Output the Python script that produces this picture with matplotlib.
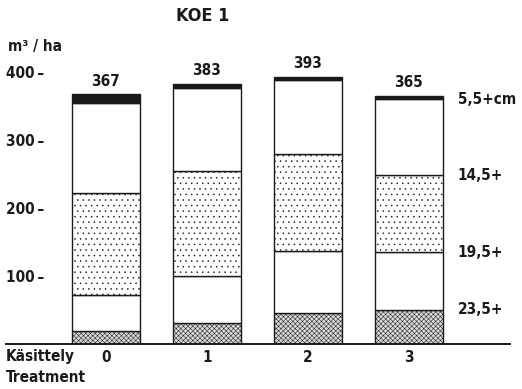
import matplotlib
matplotlib.use("Agg")
import matplotlib.pyplot as plt
import numpy as np

# stand volume by diameter class, m3/ha, stacked from the bottom up
treatments = ["0", "1", "2", "3"]
totals = [367, 383, 393, 365]
vol_235 = [19, 31, 46, 50]      # 23,5+ cm
vol_195 = [53, 69, 91, 85]      # 19,5 - 23,5
vol_145 = [150, 155, 143, 113]  # 14,5 - 19,5
vol_55 = [133, 122, 108, 112]   # 5,5 - 14,5
class_labels = ["23,5+", "19,5+", "14,5+", "5,5+cm"]
yticks = [100, 200, 300, 400]

plt.rcParams["font.family"] = ["DejaVu Sans"]
plt.rcParams["font.stretch"] = "condensed"
plt.rcParams["font.weight"] = "bold"
plt.rcParams["hatch.linewidth"] = 0.35
plt.rcParams["hatch.color"] = "#333333"
ink = "#1a1a1a"
fs = 11

fig = plt.figure(figsize=(5.22, 3.89), dpi=100)
ax = fig.add_axes([6 / 522, 1 - 344 / 389, 504 / 522, 272 / 389])

x = np.arange(len(treatments))
w = 0.665
top = np.array(totals) - (np.array(vol_235) + np.array(vol_195)
                          + np.array(vol_145) + np.array(vol_55))
layers = [vol_235, vol_195, vol_145, vol_55, top]
styles = [
    dict(facecolor="#d8d8d8", hatch="xxxxxxx"),
    dict(facecolor="white"),
    dict(facecolor="white", hatch="..."),
    dict(facecolor="white"),
    dict(facecolor=ink),
]
bottom = np.zeros(len(x))
bounds = []
for vals, st in zip(layers, styles):
    ax.bar(x, vals, w, bottom=bottom, edgecolor=ink, linewidth=1.0, **st)
    bottom = bottom + np.array(vals)
    bounds.append(bottom.copy())

for xi, t in zip(x, totals):
    ax.annotate(str(t), (xi, t), xytext=(0, 4), textcoords="offset points",
                ha="center", va="bottom", fontsize=fs, color=ink)

# class labels beside the last bar, at the layer boundaries
last = len(x) - 1
for lab, b in zip(class_labels, bounds[:4]):
    ax.text(x[last] + w / 2 + 0.15, b[last], lab, ha="left", va="center",
            fontsize=fs, color=ink, clip_on=False)

ax.set_xlim(-0.99, 4.0)
ax.set_ylim(0, 400)
ax.set_yticks(yticks)
ax.set_yticklabels([f"{v}\u2009–" for v in yticks], ha="left")
ax.tick_params(axis="y", length=0, pad=0, labelsize=fs, labelcolor=ink)
ax.set_xticks(x)
ax.set_xticklabels(treatments)
ax.tick_params(axis="x", length=0, pad=4, labelsize=fs, labelcolor=ink)

for s in ["top", "right", "left"]:
    ax.spines[s].set_visible(False)
ax.spines["bottom"].set_linewidth(1.4)
ax.spines["bottom"].set_color(ink)

fig.text(6 / 522, 1 - 356 / 389, "Käsittely", ha="left", va="center",
         fontsize=fs, color=ink)
fig.text(6 / 522, 1 - 378 / 389, "Treatment", ha="left", va="center",
         fontsize=fs, color=ink)
fig.text(8 / 522, 1 - 47 / 389, "m³ / ha", ha="left", va="center",
         fontsize=fs, color=ink)
fig.text(203 / 522, 1 - 16 / 389, "KOE 1", ha="center", va="center",
         fontsize=13, color=ink)

fig.savefig("out.png", dpi=100, facecolor="white")
